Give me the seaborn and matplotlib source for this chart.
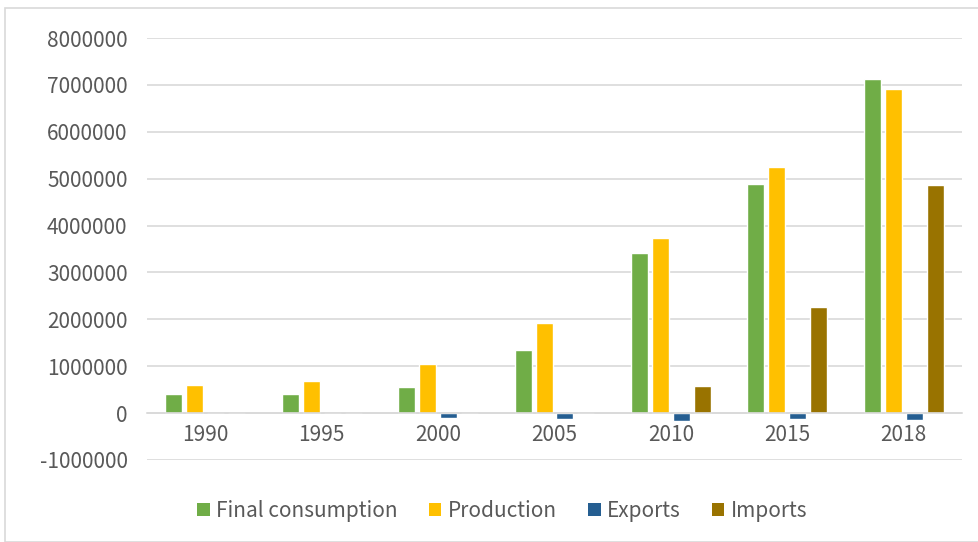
import matplotlib
matplotlib.use("Agg")
import matplotlib.pyplot as plt
import seaborn as sns
import pandas as pd
from matplotlib.patches import Rectangle, Patch

years = ["1990", "1995", "2000", "2005", "2010", "2015", "2018"]
series_names = ["Final consumption", "Production", "Exports", "Imports"]
final_consumption = [405000, 410000, 560000, 1350000, 3410000, 4890000, 7130000]
production = [590000, 690000, 1050000, 1920000, 3730000, 5240000, 6910000]
exports = [0, 0, -100000, -120000, -160000, -130000, -140000]
imports = [0, 0, 0, 0, 580000, 2260000, 4870000]
colors = ["#70AD47", "#FFC000", "#255E91", "#997300"]
yticks = [-1000000, 0, 1000000, 2000000, 3000000, 4000000, 5000000, 6000000, 7000000, 8000000]

rows = []
for name, vals in zip(series_names, [final_consumption, production, exports, imports]):
    for y, v in zip(years, vals):
        rows.append({"Year": y, "Series": name, "Value": v})
df = pd.DataFrame(rows)

sns.set_theme(style="white")
plt.rcParams["font.family"] = ["Noto Sans CJK SC", "DejaVu Sans"]

fig = plt.figure(figsize=(9.79, 5.42), dpi=100)
ax = fig.add_axes([147 / 979, 1 - 460 / 542, (962 - 147) / 979, (460 - 38) / 542])

sns.barplot(data=df, x="Year", y="Value", hue="Series", order=years,
            hue_order=series_names, palette=colors, width=0.72, gap=0.19,
            saturation=1, ax=ax, legend=False, errorbar=None)

ax.set_ylim(-1000000, 8000000)
ax.set_xlim(-0.5, len(years) - 0.5)
ax.set_yticks(yticks)
ax.set_yticklabels([str(t) for t in yticks])
ax.yaxis.grid(True, color="#d9d9d9", linewidth=1.2)
ax.set_axisbelow(True)
for s in ["left", "right", "top"]:
    ax.spines[s].set_visible(False)
ax.spines["bottom"].set_position(("data", 0))
ax.spines["bottom"].set_color("#d9d9d9")
ax.spines["bottom"].set_linewidth(1.2)
ax.tick_params(axis="both", length=0, labelsize=15, labelcolor="#595959")
ax.tick_params(axis="y", pad=14)
ax.tick_params(axis="x", pad=8)
ax.set_xlabel("")
ax.set_ylabel("")

handles = [Patch(facecolor=c, edgecolor="none") for c in colors]
fig.legend(handles, series_names, loc="center", bbox_to_anchor=(0.513, 1 - 511 / 542),
           ncol=4, frameon=False, fontsize=15, labelcolor="#595959",
           handlelength=0.6, handleheight=0.6, handletextpad=0.3, columnspacing=1.5)

fig.patches.append(Rectangle((5 / 979, 0), 1, 1 - 8 / 542, transform=fig.transFigure,
                             fill=False, edgecolor="#d9d9d9", linewidth=1.2))

fig.savefig("out.png", dpi=100)
